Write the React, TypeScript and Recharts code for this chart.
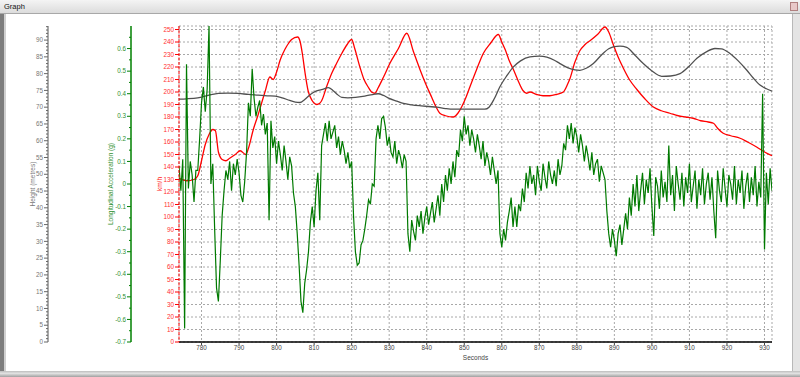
import React from 'react';
import { LineChart, Line, XAxis, YAxis, CartesianGrid } from 'recharts';

// axis ticks
const SECOND_TICKS = [780, 790, 800, 810, 820, 830, 840, 850, 860, 870, 880, 890, 900, 910, 920, 930];
const SPEED_TICKS = [0, 10, 20, 30, 40, 50, 60, 70, 80, 90, 100, 110, 120, 130, 140, 150, 160, 170, 180, 190, 200, 210, 220, 230, 240, 250];
const ACCEL_TICKS = [-0.7, -0.6, -0.5, -0.4, -0.3, -0.2, -0.1, 0, 0.1, 0.2, 0.3, 0.4, 0.5, 0.6];
const HEIGHT_TICKS = [0, 5, 10, 15, 20, 25, 30, 35, 40, 45, 50, 55, 60, 65, 70, 75, 80, 85, 90];

// speed (km/h)
const speedTime = [774, 776, 778, 779, 780, 781, 782, 783, 783.7, 784.5, 785.5, 786.5, 787.5, 789, 790.3, 791.8, 792.5, 793.8, 795, 796, 797, 798.2, 799.1, 800, 801, 802.2, 803.2, 804, 805.6, 806.3, 806.9, 807.6, 808.4, 809.5, 810.7, 811.5, 812, 813.3, 814.7, 816, 817.4, 818.8, 820, 820.8, 822.2, 823.3, 824.4, 825.3, 826.2, 827, 828.5, 830.2, 832.5, 834.7, 836.5, 838.2, 839.8, 841.3, 842.5, 843.5, 845, 847.1, 848.3, 849.3, 850.5, 851.5, 853.3, 855.1, 857, 859.1, 860, 860.9, 862, 863.1, 864.5, 865.7, 866.6, 867.5, 869.3, 871, 872.8, 874.5, 876.4, 877.5, 878.2, 879.5, 880.8, 882.2, 883.5, 885.5, 887.5, 888.5, 889.7, 891, 892.4, 894, 896, 898, 900.4, 902.5, 904.8, 907, 909, 911, 913, 915, 916.4, 917.5, 919, 921, 923.5, 925.5, 927.9, 930, 932];
const speedKmh = [131, 129, 130, 133, 145, 158, 166, 170, 169, 152, 146, 145, 147, 150, 153, 150, 155, 170, 181, 191, 201, 212, 210, 216, 226, 234, 239, 242, 244, 240, 230, 215, 201, 193, 190, 191, 193, 204, 215, 223, 231, 238, 242, 235, 220, 210, 204, 200, 199, 203, 212, 223, 235, 247, 232, 218, 206, 196, 188, 183, 181, 180, 183, 188, 196, 204, 218, 231, 239, 246, 240, 234, 225, 218, 208, 201, 199, 200, 198, 197, 197, 198, 200, 206, 211, 224, 233, 238, 241, 246, 252, 248, 238, 228, 219, 210, 202, 195, 188, 185, 183, 181, 180, 179, 177, 176, 175, 171, 167, 165, 163, 160, 156, 152, 149];

// height (metres)
const heightTime = [774, 776, 779, 782, 784.5, 787, 789.8, 792.5, 795.1, 797.5, 799.6, 801.5, 803.5, 805, 806.2, 807.5, 809, 810.5, 812, 813.8, 815, 816.2, 817.4, 819, 821, 823.5, 826.2, 827.1, 828.5, 830, 832, 833.8, 836, 838.5, 840.5, 842.7, 845, 847.1, 850, 852.5, 855.5, 856.6, 858, 859.5, 861.3, 863.1, 865, 867.5, 870, 872, 874, 875.5, 877.5, 879.5, 880.8, 882.5, 884.4, 886.5, 888.5, 889.7, 891.5, 893.3, 895.5, 897.7, 900, 902.6, 905, 907.5, 910, 912, 914.5, 916.8, 918.5, 920.8, 923, 925.3, 927, 928.8, 930.5, 932];
const heightM = [72.4, 72.5, 72.8, 73.6, 74.1, 74.2, 74.1, 73.8, 73.6, 73.4, 73.3, 72.8, 72.0, 71.5, 71.4, 72.3, 73.8, 74.8, 75.2, 75.8, 75.0, 73.8, 72.9, 72.8, 72.9, 73.3, 73.9, 74.0, 73.5, 72.6, 71.8, 71.1, 70.7, 70.4, 70.2, 70.0, 69.6, 69.4, 69.4, 69.4, 69.4, 70.0, 72.5, 76.1, 79.3, 82.0, 83.8, 85.0, 85.2, 84.9, 84.0, 83.0, 81.8, 81.1, 81.0, 81.6, 83.0, 85.5, 87.4, 88.0, 88.2, 87.8, 85.5, 83.0, 80.8, 79.2, 79.3, 80.0, 82.3, 84.6, 86.5, 87.5, 87.4, 86.0, 83.8, 81.0, 78.7, 76.6, 75.5, 74.8];

// longitudinal acceleration (g), one sample every 0.5 s from 774 s
const ACCEL_START = 774;
const ACCEL_STEP = 0.5;
const accelG = [
  0.08, -0.03, 0.11, -0.64, 0.53, -0.02, 0.1, 0.04, -0.08, 0.06,
  0.06, 0.2, 0.36, 0.43, 0.32, 0.42, 0.7, 0.0, 0.09, -0.2,
  -0.46, -0.52, -0.34, -0.14, -0.03, 0.06, 0.02, 0.1, -0.03, 0.09,
  0.04, 0.11, 0.05, -0.05, -0.08, 0.01, 0.14, 0.36, 0.3, 0.51,
  0.38, 0.3, 0.34, 0.37, 0.26, 0.31, 0.22, 0.27, -0.16, 0.28,
  0.16, 0.21, 0.09, 0.19, 0.13, 0.06, 0.17, 0.1, 0.02, 0.12,
  0.08, -0.04, -0.1, -0.22, -0.36, -0.52, -0.57, -0.44, -0.38, -0.3,
  -0.17, -0.1, -0.19, -0.03, 0.05, -0.16, 0.17, 0.22, 0.27, 0.19,
  0.28, 0.2, 0.23, 0.26, 0.16, 0.21, 0.13, 0.19, 0.15, 0.09,
  0.14, 0.07, 0.1, -0.14, -0.3, -0.36, -0.35, -0.27, -0.25, -0.2,
  -0.14, -0.07, -0.09, 0.0, -0.01, 0.2, 0.26, 0.2, 0.29, 0.3,
  0.25, 0.17, 0.21, 0.14, 0.12, 0.19, 0.09, 0.15, 0.12, 0.07,
  0.13, 0.1, -0.22, -0.3, -0.16, -0.21, -0.25, -0.14, -0.19, -0.12,
  -0.22, -0.15, -0.1, -0.18, -0.13, -0.08, -0.17, -0.11, -0.05, -0.14,
  0.0, -0.08, 0.04, -0.03, 0.07, 0.0, 0.1, 0.03, 0.15, 0.12,
  0.24, 0.19, 0.3, 0.22, 0.26, 0.17, 0.24, 0.2, 0.14, 0.22,
  0.17, 0.11, 0.19, 0.08, 0.14, 0.1, 0.04, 0.12, 0.06, 0.0,
  0.06, -0.22, -0.28, -0.2, -0.25, -0.17, -0.12, -0.06, -0.19, -0.1,
  -0.19, -0.09, -0.12, -0.02, -0.08, 0.05, -0.02, 0.08, 0.0, 0.04,
  -0.05, 0.08, 0.01, -0.03, 0.09, 0.03, -0.02, 0.1, 0.04, 0.0,
  0.06, -0.01, 0.11, 0.04, 0.08, 0.18, 0.15, 0.26, 0.2, 0.27,
  0.18, 0.25, 0.21, 0.14, 0.22, 0.17, 0.1, 0.17, 0.12, 0.06,
  0.14, 0.04, 0.09, 0.11, 0.01, 0.08, 0.05, 0.02, -0.12, -0.22,
  -0.28, -0.2, -0.25, -0.32, -0.22, -0.18, -0.27, -0.2, -0.13, -0.2,
  -0.06, -0.14, 0.0, -0.1, 0.04, -0.12, -0.03, 0.05, -0.09, 0.02,
  -0.04, 0.07, -0.1, -0.23, 0.03, -0.01, -0.11, 0.06, -0.06, 0.01,
  -0.08, 0.17, -0.05, 0.04, -0.12, 0.08, 0.0, -0.07, 0.05, -0.1,
  0.03, -0.04, 0.09, -0.08, -0.01, 0.06, -0.11, 0.02, -0.05, 0.07,
  -0.09, 0.0, 0.05, -0.07, 0.03, -0.12, -0.24, 0.06, -0.03, -0.08,
  0.07, -0.02, -0.1, 0.04, 0.0, -0.07, 0.08, -0.09, 0.02, -0.04,
  0.06, -0.11, -0.01, 0.05, -0.08, 0.03, -0.05, 0.08, -0.1, 0.01,
  -0.06, 0.4, -0.29, 0.05, -0.09, 0.07, -0.03,
];

const speedData = speedTime.map((t, i) => ({ t, v: speedKmh[i] }));
const heightData = heightTime.map((t, i) => ({ t, v: heightM[i] }));
const accelData = accelG.map((v, i) => ({ t: ACCEL_START + i * ACCEL_STEP, v }));

// minor ticks between the labelled ones
const withMinor = (major: number[], parts: number, top: number) => {
  const out: number[] = [];
  const step = major[1] - major[0];
  for (let i = 0; i < major.length; i++) {
    for (let k = 0; k < parts; k++) {
      const v = major[i] + (step * k) / parts;
      if (v <= top + 1e-9) out.push(Math.round(v * 1000) / 1000);
    }
  }
  return out;
};

const FONT = '"Liberation Sans", Arial, sans-serif';
const TICK_SIZE = 6.3;

// left axes widths; recharts stacks left axes by id order, nearest to the plot first
const HEIGHT_W = 48;
const ACCEL_W = 83;
const SPEED_W = 48;

const SPEED_AXIS_X = HEIGHT_W + ACCEL_W + SPEED_W;
const ACCEL_AXIS_X = HEIGHT_W + ACCEL_W;
const HEIGHT_AXIS_X = HEIGHT_W;

const makeYTick = (axisX: number, color: string, lineColor: string, majors: number[]) => (props: any) => {
  const { y, payload } = props;
  const v = payload.value;
  const major = majors.some((m) => Math.abs(m - v) < 1e-6);
  return (
    <g>
      <line x1={axisX - (major ? 4 : 2)} x2={axisX} y1={y} y2={y} stroke={lineColor} strokeWidth={1} />
      {major && (
        <text x={axisX - 5} y={y} dy={2.2} textAnchor="end" fill={color} fontSize={TICK_SIZE} fontFamily={FONT}>
          {String(v)}
        </text>
      )}
    </g>
  );
};

export default function App() {
  return (
    <div style={{ position: 'relative', width: 800, height: 377, background: '#fff', overflow: 'hidden', fontFamily: FONT }}>
      <style>{`body{margin:0}`}</style>
      {/* window title bar */}
      <div style={{ position: 'absolute', left: 0, top: 0, width: 800, height: 13, background: 'linear-gradient(#f4f4f4, #dcdcdc)', borderBottom: '1px solid #a8a8a8' }}>
        <span style={{ position: 'absolute', left: 4, top: 2, fontSize: 7.5, color: '#111' }}>Graph</span>
        <div style={{ position: 'absolute', right: 2, top: 2, width: 8, height: 9, background: '#e8c8c8', border: '1px solid #b08080', boxSizing: 'border-box' }} />
      </div>
      {/* frame edges */}
      <div style={{ position: 'absolute', left: 0, top: 14, width: 4, height: 363, background: '#7d7d7d' }} />
      <div style={{ position: 'absolute', left: 4, top: 14, width: 2, height: 363, background: '#d0d0d0' }} />
      <div style={{ position: 'absolute', right: 0, top: 14, width: 7, height: 363, background: '#e4e4e4', borderLeft: '1px solid #b8b8b8' }} />
      <div style={{ position: 'absolute', left: 0, top: 371, width: 800, height: 6, background: 'linear-gradient(#bdbdbd, #e2e2e2 40%, #a0a0a0)' }} />

      <div style={{ position: 'absolute', left: 0, top: 14 }}>
        <LineChart width={792} height={357} margin={{ top: 12, right: 20, bottom: 0, left: 0 }}>
          <CartesianGrid xAxisId="x" yAxisId="a_speed" stroke="#a8a8a8" strokeDasharray="2 2" />
          <XAxis
            xAxisId="x"
            dataKey="t"
            type="number"
            domain={[774, 932]}
            ticks={SECOND_TICKS}
            interval={0}
            allowDataOverflow
            height={29}
            tickSize={3}
            tickMargin={1}
            axisLine={{ stroke: '#000', strokeWidth: 1.5 }}
            tickLine={{ stroke: '#444' }}
            tick={{ fill: '#444', fontSize: TICK_SIZE, fontFamily: FONT }}
            label={{ value: 'Seconds', position: 'insideBottom', offset: 11, fill: '#444', fontSize: 6.5, fontFamily: FONT }}
          />
          <XAxis xAxisId="top" orientation="top" type="number" domain={[774, 932]} height={0} tick={false} tickLine={false} axisLine={{ stroke: '#888' }} />
          <YAxis
            yAxisId="a_speed"
            type="number"
            domain={[0, 252.8]}
            ticks={SPEED_TICKS}
            interval={0}
            allowDataOverflow
            width={SPEED_W}
            tickLine={false}
            axisLine={{ stroke: '#ff0000', strokeDasharray: '3 1.5' }}
            tick={makeYTick(SPEED_AXIS_X, '#ff3030', '#ff0000', SPEED_TICKS)}
            label={{ value: 'km/h', angle: -90, position: 'insideLeft', offset: 29, fill: '#ff2020', fontSize: 6.5, fontFamily: FONT, style: { textAnchor: 'middle' } }}
          />
          <YAxis
            yAxisId="b_accel"
            type="number"
            domain={[-0.7, 0.7]}
            ticks={withMinor(ACCEL_TICKS, 2, 0.65)}
            interval={0}
            allowDataOverflow
            width={ACCEL_W}
            tickLine={false}
            axisLine={{ stroke: '#008000', strokeWidth: 1.5 }}
            tick={makeYTick(ACCEL_AXIS_X, '#2f8f2f', '#008000', ACCEL_TICKS)}
            label={{ value: 'Longitudinal Acceleration (g)', angle: -90, position: 'insideLeft', offset: 63, fill: '#2f8f2f', fontSize: 6.5, fontFamily: FONT, style: { textAnchor: 'middle' } }}
          />
          <YAxis
            yAxisId="c_height"
            type="number"
            domain={[0, 94.2]}
            ticks={withMinor(HEIGHT_TICKS, 5, 94)}
            interval={0}
            allowDataOverflow
            width={HEIGHT_W}
            tickLine={false}
            axisLine={{ stroke: '#555' }}
            tick={makeYTick(HEIGHT_AXIS_X, '#777', '#666', HEIGHT_TICKS)}
            label={{ value: 'Height (metres)', angle: -90, position: 'insideLeft', offset: 33, fill: '#777', fontSize: 6.5, fontFamily: FONT, style: { textAnchor: 'middle' } }}
          />
          <YAxis yAxisId="z_border" orientation="right" width={0} domain={[0, 1]} tick={false} tickLine={false} axisLine={{ stroke: '#777' }} />

          <Line xAxisId="x" yAxisId="a_speed" data={speedData} dataKey="v" type="monotone" stroke="#ff0000" strokeWidth={1.3} dot={false} isAnimationActive={false} />
          <Line xAxisId="x" yAxisId="c_height" data={heightData} dataKey="v" type="monotone" stroke="#505050" strokeWidth={1.3} dot={false} isAnimationActive={false} />
          <Line xAxisId="x" yAxisId="b_accel" data={accelData} dataKey="v" type="linear" stroke="#007a00" strokeWidth={1.2} dot={false} isAnimationActive={false} />
        </LineChart>
      </div>
    </div>
  );
}
